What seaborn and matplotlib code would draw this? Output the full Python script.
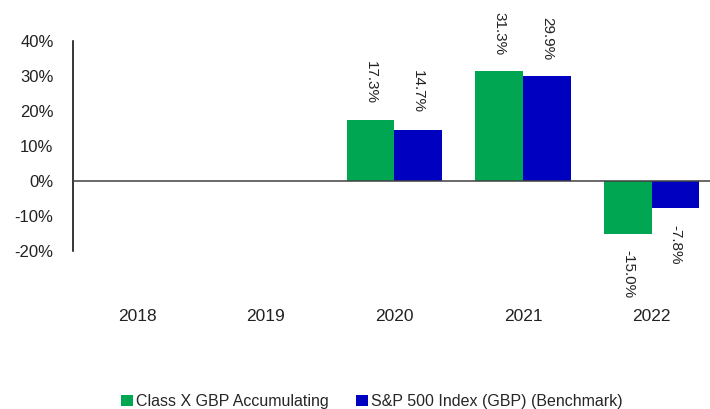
import numpy as np
import pandas as pd
import matplotlib
matplotlib.use("Agg")
import matplotlib.pyplot as plt
from matplotlib.ticker import FuncFormatter
import seaborn as sns

# chart values (percent)
years = ["2018", "2019", "2020", "2021", "2022"]
fund_returns = [np.nan, np.nan, 17.3, 31.3, -15.0]
bench_returns = [np.nan, np.nan, 14.7, 29.9, -7.8]
series_names = ["Class X GBP Accumulating", "S&P 500 Index (GBP) (Benchmark)"]
colors = ["#00A651", "#0000C0"]

df = pd.DataFrame({
    "Year": years * 2,
    "Return": fund_returns + bench_returns,
    "Series": [series_names[0]] * len(years) + [series_names[1]] * len(years),
})

sns.set_style("white")
plt.rcParams["font.family"] = ["Liberation Sans", "DejaVu Sans"]

fig = plt.figure(figsize=(7.1, 4.09), dpi=100)
# plot area runs a little past the right edge, like the original
ax = fig.add_axes([0.1028, 0.3863, 0.9056, 0.5135])

sns.barplot(data=df, x="Year", y="Return", hue="Series", order=years,
            hue_order=series_names, palette=colors, width=0.74,
            saturation=1, linewidth=0, ax=ax)

# data labels, rotated
for c in ax.containers:
    ax.bar_label(c, fmt="%.1f%%", padding=12, rotation=270, fontsize=11,
                 color="#222222")

ax.set_ylim(-20, 40)
ax.set_yticks(range(-20, 41, 10))
ax.yaxis.set_major_formatter(FuncFormatter(lambda v, p: f"{v:.0f}%"))
ax.axhline(0, color="#404040", lw=1.1, zorder=3)

for s in ["top", "right", "bottom"]:
    ax.spines[s].set_visible(False)
ax.spines["left"].set_color("black")
ax.spines["left"].set_linewidth(1.1)

ax.tick_params(axis="y", length=0, pad=14, labelsize=12, labelcolor="#222222")
ax.tick_params(axis="x", length=0, pad=42, labelsize=12.5, labelcolor="#222222")
ax.set_xlabel("")
ax.set_ylabel("")

handles, labels = ax.get_legend_handles_labels()
ax.get_legend().remove()
fig.legend(handles, labels, loc="center", bbox_to_anchor=(0.524, 0.018),
           ncol=2, frameon=False, fontsize=11.5, handlelength=0.75,
           handleheight=0.75, handletextpad=0.2, columnspacing=1.7)

fig.savefig("out.png", dpi=100)
